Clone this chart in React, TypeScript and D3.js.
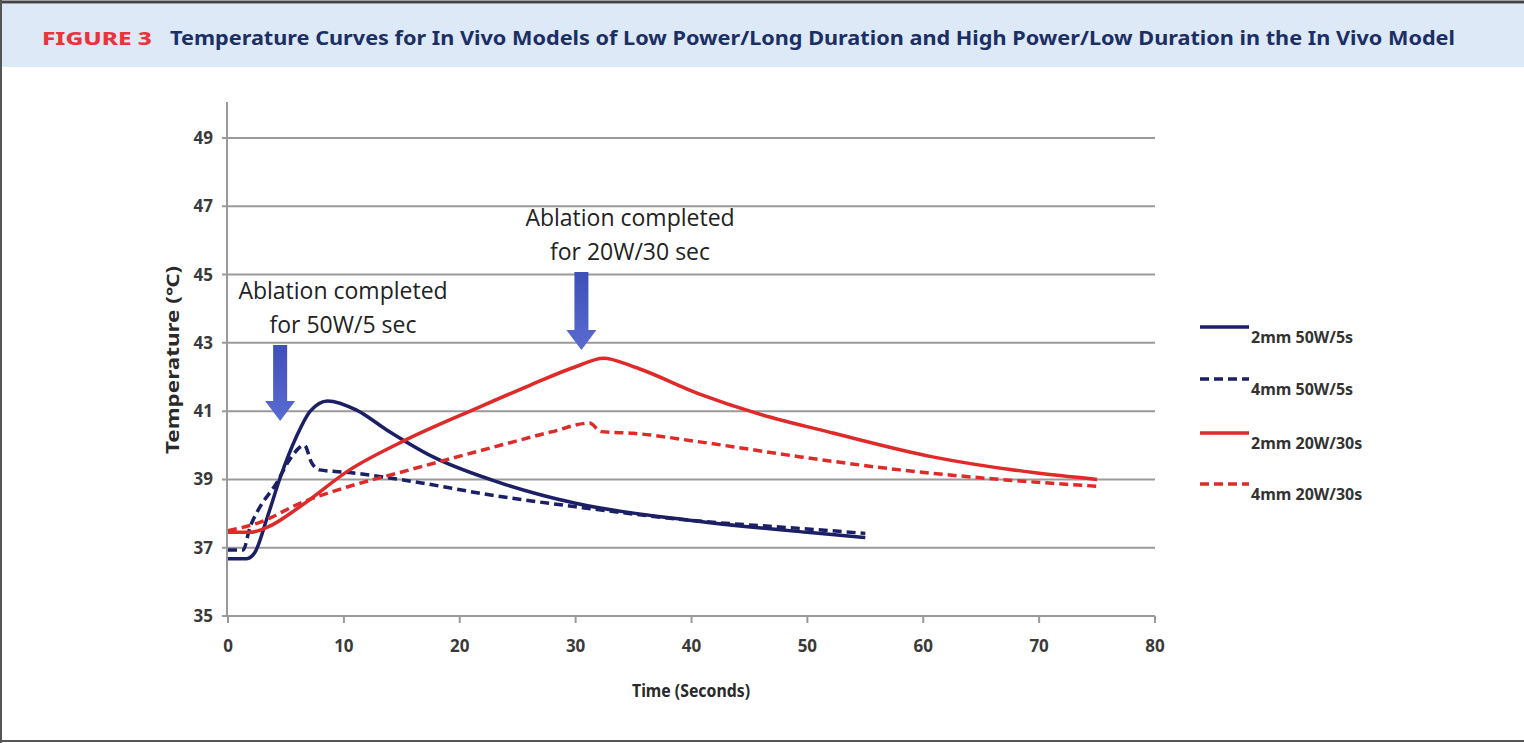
import React from "react";
import * as d3 from "d3";

const xTicks = [0, 10, 20, 30, 40, 50, 60, 70, 80];
const yTicks = [35, 37, 39, 41, 43, 45, 47, 49];

// [time (s), temperature (°C)]
const solid2mm50W: [number, number][] = [
  [0, 36.68], [1.6, 36.68], [2.3, 36.85], [3.4, 37.9], [4.5, 39.05], [5.9, 40.25], [7.1, 41.0],
  [8.6, 41.3], [11.1, 41.03], [13.7, 40.45], [17.7, 39.66], [23.5, 38.9], [30, 38.3],
  [40, 37.8], [50, 37.45], [55, 37.3],
];
const dashed4mm50W: [number, number][] = [
  [0, 36.93], [1.3, 36.93], [1.9, 37.6], [2.6, 38.1], [4.2, 38.9], [5.3, 39.57], [6.6, 40.0],
  [7.2, 39.5], [7.9, 39.28], [10.5, 39.2], [14.8, 39.0], [23.5, 38.5], [30, 38.2],
  [40, 37.8], [50, 37.55], [55, 37.42],
];
const solid2mm20W: [number, number][] = [
  [0, 37.45], [1.9, 37.45], [3.4, 37.6], [6.2, 38.2], [10.5, 39.28], [15.3, 40.15], [21.7, 41.12],
  [26, 41.75], [30, 42.3], [32.4, 42.55], [35, 42.3], [40.7, 41.5], [45.6, 40.94], [52.2, 40.36],
  [60.8, 39.66], [69.5, 39.2], [75, 39.0],
];
const dashed4mm20W: [number, number][] = [
  [0, 37.5], [2.8, 37.75], [6.2, 38.3], [10.5, 38.8], [14.8, 39.2], [23.5, 40.0], [28, 40.4],
  [31.2, 40.65], [32.2, 40.4], [35, 40.35], [40.7, 40.1], [49.4, 39.66], [58, 39.28],
  [66.6, 39.0], [75, 38.8],
];

const seriesNames = ["2mm 50W/5s", "4mm 50W/5s", "2mm 20W/30s", "4mm 20W/30s"];
const seriesData = [solid2mm50W, dashed4mm50W, solid2mm20W, dashed4mm20W];
const seriesColors = ["#1b1f66", "#1b1f66", "#e02a2a", "#e02a2a"];
const seriesDashed = [false, true, false, true];

const annotations = [
  { t: 4.5, lines: ["Ablation completed", "for 50W/5 sec"] },
  { t: 30.5, lines: ["Ablation completed", "for 20W/30 sec"] },
];

export default function App() {
  const x = d3.scaleLinear().domain([0, 80]).range([228, 1155]);
  const y = d3.scaleLinear().domain([35, 49]).range([616, 138]);
  const line = d3
    .line<[number, number]>()
    .x((d) => x(d[0]))
    .y((d) => y(d[1]))
    .curve(d3.curveMonotoneX);

  const tickFont = "'Liberation Sans Narrow', 'Noto Sans', sans-serif";
  const arrowSpecs = [
    { cx: x(annotations[0].t), top: 345, bottom: 421, textX: 343, textY: 291 },
    { cx: x(annotations[1].t), top: 272, bottom: 350, textX: 630, textY: 218 },
  ];

  return (
    <div style={{ position: "absolute", left: 0, top: 0 }}>
      <svg width={1524} height={743} style={{ display: "block", background: "#fff" }}>
        <defs>
          <linearGradient id="arrowGrad" x1="0" y1="0" x2="0" y2="1">
            <stop offset="0" stopColor="#3f4fb8" />
            <stop offset="1" stopColor="#5a6bd0" />
          </linearGradient>
        </defs>
        {/* frame */}
        <rect x={0} y={0} width={1524} height={743} fill="#fff" />
        <rect x={1} y={4} width={1523} height={63} fill="#dde9f7" />
        <line x1={0} x2={1524} y1={2} y2={2} stroke="#444" strokeWidth={3} />
        <line x1={1} x2={1} y1={0} y2={743} stroke="#555" strokeWidth={2} />
        <line x1={0} x2={1524} y1={741} y2={741} stroke="#555" strokeWidth={2} />
        <text x={42} y={45} fill="#e8343a" fontFamily="'Noto Sans', sans-serif" fontWeight={800}
          fontSize={18} textLength={110} lengthAdjust="spacingAndGlyphs">FIGURE 3</text>
        <text x={170} y={45} fill="#1c2f64" fontFamily="'Noto Sans', sans-serif" fontWeight={700}
          fontSize={19} textLength={1285} lengthAdjust="spacingAndGlyphs">
          Temperature Curves for In Vivo Models of Low Power/Long Duration and High Power/Low Duration in the In Vivo Model
        </text>

        {/* gridlines */}
        {yTicks.map((t) => (
          <g key={"y" + t}>
            <line x1={222} x2={1155} y1={y(t)} y2={y(t)} stroke="#9a9a9a" strokeWidth={2} />
            <text x={213} y={y(t) + 6} textAnchor="end" fontFamily={tickFont} fontWeight={700}
              fontSize={17} fill="#3a3a3a">{t}</text>
          </g>
        ))}
        <line x1={227} x2={227} y1={102} y2={616} stroke="#9a9a9a" strokeWidth={2} />
        {xTicks.map((t) => (
          <g key={"x" + t}>
            <line x1={x(t)} x2={x(t)} y1={616} y2={623} stroke="#9a9a9a" strokeWidth={2} />
            <text x={x(t)} y={652} textAnchor="middle" fontFamily={tickFont} fontWeight={700}
              fontSize={17} fill="#3a3a3a">{t}</text>
          </g>
        ))}
        <text x={691} y={697} textAnchor="middle" fontFamily={tickFont} fontWeight={700}
          fontSize={18} fill="#2a2a2a" textLength={118} lengthAdjust="spacingAndGlyphs">Time (Seconds)</text>
        <text transform="translate(179,360) rotate(-90)" textAnchor="middle" fontFamily={tickFont}
          fontWeight={700} fontSize={17} fill="#2a2a2a" textLength={188} lengthAdjust="spacingAndGlyphs">Temperature (℃)</text>

        {/* series */}
        {seriesData.map((data, i) => (
          <path key={"s" + i} d={line(data) || ""} fill="none" stroke={seriesColors[i]}
            strokeWidth={3.5} strokeDasharray={seriesDashed[i] ? "9 5" : undefined} />
        ))}

        {/* annotations */}
        {annotations.map((a, i) => {
          const s = arrowSpecs[i];
          const hw = 7, hh = 15, head = 20;
          const pts = [
            [s.cx - hw, s.top], [s.cx + hw, s.top], [s.cx + hw, s.bottom - head],
            [s.cx + hh, s.bottom - head], [s.cx, s.bottom], [s.cx - hh, s.bottom - head],
            [s.cx - hw, s.bottom - head],
          ].map((p) => p.join(",")).join(" ");
          return (
            <g key={"a" + i}>
              <polygon points={pts} fill="url(#arrowGrad)" />
              {a.lines.map((l, j) => (
                <text key={j} x={s.textX} y={s.textY + j * 34 + 8} textAnchor="middle"
                  fontFamily="'Open Sans', sans-serif" fontSize={23} fill="#222">{l}</text>
              ))}
            </g>
          );
        })}

        {/* legend */}
        {seriesNames.map((n, i) => {
          const ly = [327, 379, 433, 484][i];
          return (
            <g key={"l" + i}>
              <line x1={1200} x2={1249} y1={ly} y2={ly} stroke={seriesColors[i]} strokeWidth={3.5}
                strokeDasharray={seriesDashed[i] ? "9 5" : undefined} />
              <text x={1251} y={ly + 16} fontFamily={tickFont} fontWeight={700} fontSize={16}
                fill="#333">{n}</text>
            </g>
          );
        })}
      </svg>
    </div>
  );
}
